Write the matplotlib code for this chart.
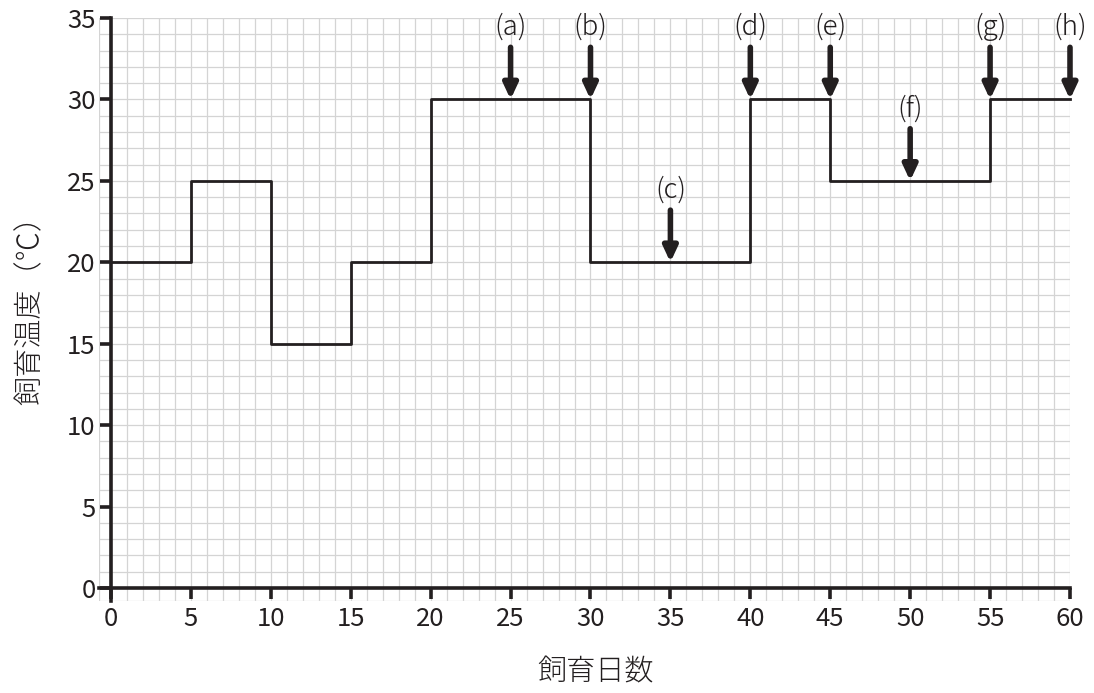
import matplotlib
matplotlib.use("Agg")
import matplotlib.pyplot as plt

# Data
days = [0, 5, 10, 15, 20, 30, 40, 45, 55, 60]
temps = [20, 25, 15, 20, 30, 20, 30, 25, 30, 30]
arrow_labels = ["(a)", "(b)", "(c)", "(d)", "(e)", "(f)", "(g)", "(h)"]
arrow_days = [25, 30, 35, 40, 45, 50, 55, 60]
arrow_temps = [30, 30, 20, 30, 30, 25, 30, 30]
xticks = list(range(0, 61, 5))
yticks = list(range(0, 36, 5))

plt.rcParams['font.family'] = ['Noto Sans CJK JP', 'DejaVu Sans']
INK = '#231f20'
GRID = '#d4d4d4'

fig = plt.figure(figsize=(10.94, 6.93), dpi=100)
W, H = 1094, 693
ax = fig.add_axes([99 / W, 1 - 601 / H, (1070 - 99) / W, (601 - 18) / H])
ax.set_xlim(-0.75, 60)
ax.set_ylim(-0.8, 35)

# grid
ax.set_xticks(range(0, 61), minor=True)
ax.set_yticks(range(0, 36), minor=True)
ax.grid(which='both', color=GRID, lw=0.9, zorder=0)
ax.tick_params(which='minor', length=0)

for s in ['top', 'right']:
    ax.spines[s].set_visible(False)
ax.spines['left'].set_position(('data', 0))
ax.spines['bottom'].set_position(('data', 0))
for s in ['left', 'bottom']:
    ax.spines[s].set_color(INK)
    ax.spines[s].set_linewidth(2.6)
    ax.spines[s].set_zorder(3)
ax.axvline(-0.75, color=GRID, lw=0.9, zorder=0)
ax.axhline(-0.8, color=GRID, lw=0.9, zorder=0)

ax.set_xticks(xticks)
ax.set_yticks(yticks)
ax.tick_params(which='major', direction='out', length=8, width=2.6, color=INK,
               labelsize=18.5, labelcolor=INK, pad=3)
ax.xaxis.set_tick_params(pad=5)

ax.step(days, temps, where='post', color=INK, lw=2.0, zorder=4, clip_on=False)

for lab, xd, yt in zip(arrow_labels, arrow_days, arrow_temps):
    ax.annotate('', xy=(xd, yt), xytext=(xd, yt + 3.2),
                arrowprops=dict(arrowstyle='-|>,head_width=0.42,head_length=0.9',
                                lw=4.0, color=INK, shrinkA=0, shrinkB=0),
                annotation_clip=False, zorder=5)
    ax.text(xd, yt + 4.45, lab, ha='center', va='center', fontsize=20,
            color=INK, clip_on=False, fontweight='light')

fig.text(596 / W, 1 - 672 / H, '飼育日数', ha='center', va='center',
         fontsize=21, color=INK, fontweight='light')
fig.text(30 / W, 1 - 303 / H, '飼育温度（℃）', ha='center', va='center',
         fontsize=21, color=INK, rotation=90, fontweight='light')

fig.savefig('out.png', dpi=100)
